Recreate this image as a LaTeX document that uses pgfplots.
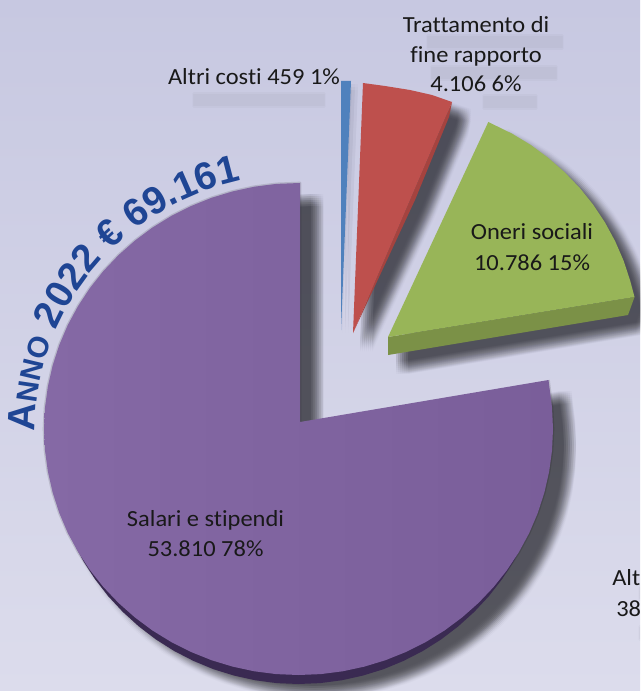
\documentclass[border=0pt]{standalone}
\usepackage{pgfplots}
\usepackage{pgfplotstable}
\usepackage{fontspec}
\pgfplotsset{compat=1.18}
\usetikzlibrary{decorations.text}
\setmainfont{Carlito}[Ligatures=NoCommon,FakeStretch=1.06]
\newfontfamily\titlef{Liberation Sans}
\definecolor{bgtop}{HTML}{C7C8E1}
\definecolor{bgbot}{HTML}{DCDCEC}
\definecolor{pl}{HTML}{8569A5}
\definecolor{pr}{HTML}{7A5E9A}
\definecolor{pd}{HTML}{3A2A52}
\definecolor{gr}{HTML}{98B558}
\definecolor{grd}{HTML}{7B9147}
\definecolor{re}{HTML}{BE504D}
\definecolor{red2}{HTML}{A5433F}
\definecolor{bl}{HTML}{4F81BD}
\definecolor{tit}{HTML}{1F4594}
\pgfplotstableread{
x y
300 422
300 183
276.3 183.9
254.3 186.7
232.6 191.4
211.5 197.8
190.9 206.1
171.2 216
152.5 227.5
134.9 240.6
118.5 255.1
103.5 270.9
90 287.9
78.1 306
67.8 325
59.3 344.9
52.7 365.3
47.9 386.3
45 407.5
44 429
45 450.5
47.9 471.7
52.7 492.7
59.3 513.1
67.8 533
78.1 552
90 570.1
103.5 587.1
118.5 602.9
134.9 617.4
152.5 630.5
171.2 642
190.9 651.9
211.5 660.2
232.6 666.6
254.3 671.3
276.3 674.1
298.5 675
320.7 674.1
342.7 671.3
364.4 666.6
385.5 660.2
406.1 651.9
425.8 642
444.5 630.5
462.1 617.4
478.5 602.9
493.5 587.1
507 570.1
518.9 552
529.2 533
537.7 513.1
544.3 492.7
549.1 471.7
552 450.5
553 429
552 407.5
548.5 380
}\purpleT
\pgfplotstableread{
x y
298.5 438
65 522.1
73.3 542
83.3 561
94.9 579.1
108.1 596.1
122.8 611.9
138.8 626.4
156 639.5
174.2 651
193.5 660.9
213.5 669.2
234.2 675.6
255.4 680.3
276.8 683.1
298.5 684
320.2 683.1
341.6 680.3
362.8 675.6
383.5 669.2
403.5 660.9
422.8 651
441 639.5
458.2 626.4
474.2 611.9
488.9 596.1
502.1 579.1
513.7 561
523.7 542
532 522.1
}\purpleD
\pgfplotstableread{
x y
388 337
488.3 122
512 133.6
530.7 144.9
548.3 157.9
564.6 172.2
579.6 187.8
593.1 204.6
605 222.5
615.2 241.3
623.7 260.9
630.3 281.1
634.5 297
}\greenT
\pgfplotstableread{
x y
388 337
634.5 297
628 315
388 355
}\greenD
\pgfplotstableread{
x y
388 337
488.3 122
512 133.6
530.7 144.9
548.3 157.9
564.6 172.2
579.6 187.8
593.1 204.6
605 222.5
615.2 241.3
623.7 260.9
630.3 281.1
634.5 297
628 315
388 355
}\greenS
\pgfplotstableread{
x y
353 333
363 83
385 86
410 90
432 95
452 102
}\redT
\pgfplotstableread{
x y
353 333
452 102
449 117
415 200
}\redD
\pgfplotstableread{
x y
353 333
363 83
385 86
410 90
432 95
452 102
449 117
415 200
}\redS
\pgfplotstableread{
x y
341 330
341 81
351 81
}\blueT
% one row of a soft shadow: table, x offset, y offset, opacity of one layer, offsets in y
\newcommand\shrow[5]{%
  \pgfplotsinvokeforeach{#5}{%
    \addplot[forget plot,fill=black,draw=none,opacity=#4]
      table[x expr=\thisrowno{0}+#2,y expr=\thisrowno{1}+#3+##1] {#1} -- cycle;
  }%
}
% soft shadow by repeated fills: table, dx, dy
\newcommand\softshadow[3]{%
  \shrow{#1}{#2-6}{#3}{0.0165}{-6,-4,-2,0,2,4,6}%
  \shrow{#1}{#2-4}{#3}{0.0165}{-6,-4,-2,0,2,4,6}%
  \shrow{#1}{#2-2}{#3}{0.0165}{-6,-4,-2,0,2,4,6}%
  \shrow{#1}{#2}{#3}{0.0165}{-6,-4,-2,0,2,4,6}%
  \shrow{#1}{#2+2}{#3}{0.0165}{-6,-4,-2,0,2,4,6}%
  \shrow{#1}{#2+4}{#3}{0.0165}{-6,-4,-2,0,2,4,6}%
  \shrow{#1}{#2+6}{#3}{0.0165}{-6,-4,-2,0,2,4,6}%
}
% blurred shadow of a line of text
\newcommand\softline[3]{%
  \pgfplotsinvokeforeach{-6,-4,-2,0,2,4,6}{%
    \addplot[forget plot,draw=black,line width=2.5pt,line cap=round,opacity=0.022]
      table[y expr=\thisrowno{1}+##1,row sep=\\] {x y\\ #1 #3\\ #2 #3\\};
  }%
}
\newcommand\lab{\fontsize{17.3}{17.3}\selectfont\color{black!90}}
\begin{document}
\begin{tikzpicture}
\path[clip,use as bounding box] (0,0) rectangle (480pt,518.25pt);
\shade[top color=bgtop,bottom color=bgbot] (0,0) rectangle (480pt,518.25pt);
\begin{axis}[
  at={(0,0)},anchor=south west,scale only axis,
  width=480pt,height=518.25pt,
  xmin=0,xmax=640,ymin=0,ymax=691,y dir=reverse,
  hide axis,clip=false]
% text shadows
\softline{194}{324}{100}
\softline{428}{562}{42}
\softline{432}{556}{73}
\softline{484}{536}{102}
\softline{640}{660}{593}
\softline{640}{660}{633}
% pie shadows
\shrow{\blueT}{1}{6}{0.012}{-3,0,3}
\shrow{\blueT}{4}{6}{0.012}{-3,0,3}
\shrow{\blueT}{7}{6}{0.012}{-3,0,3}
\softshadow{\redS}{13}{13}
\softshadow{\greenS}{14}{13}
\softshadow{\purpleT}{17}{17}
% thin halo round the arc of the large slice
\addplot[forget plot,draw=black,line width=2pt,opacity=0.12,line join=round] table {\purpleT};
% depth
\addplot[forget plot,fill=pd,draw=none] table {\purpleD} -- cycle;
\addplot[forget plot,fill=red2,draw=none] table {\redD} -- cycle;
\addplot[forget plot,fill=grd,draw=none] table {\greenD} -- cycle;
% faces
\addplot[forget plot,left color=pl,right color=pr,draw=none] table {\purpleT} -- cycle;
\addplot[forget plot,fill=gr,draw=none] table {\greenT} -- cycle;
\addplot[forget plot,fill=re,draw=none] table {\redT} -- cycle;
\addplot[forget plot,fill=bl,draw=none] table {\blueT} -- cycle;
% labels
\node[anchor=base] at (axis cs:205.5,526) {\lab Salari e stipendi};
\node[anchor=base] at (axis cs:205.5,556) {\lab 53.810 78\%};
\node[anchor=base] at (axis cs:532,240) {\lab Oneri sociali};
\node[anchor=base] at (axis cs:532,270) {\lab 10.786 15\%};
\node[anchor=base] at (axis cs:476,33) {\lab Trattamento di};
\node[anchor=base] at (axis cs:476,63) {\lab fine rapporto};
\node[anchor=base] at (axis cs:476,92) {\lab 4.106 6\%};
\node[anchor=base] at (axis cs:254,85) {\lab Altri costi 459 1\%};
\node[anchor=base west,inner sep=0pt] at (axis cs:612,585) {\lab Alt};
\node[anchor=base west,inner sep=0pt] at (axis cs:616,616) {\lab 38};
\end{axis}
\path[decorate,decoration={text along path,text align=left,
  text={|\titlef\bfseries\fontsize{29}{29}\selectfont\color{tit}|A||%
        |\titlef\bfseries\fontsize{22}{22}\selectfont\color{tit}|NNO||%
        |\titlef\bfseries\fontsize{29}{29}\selectfont\color{tit}| 2022 € 69.161}}]
  ({223.9pt+197.5pt*cos(180.5)},{196.5pt+191pt*sin(180.5)})
  arc[start angle=180.5,end angle=90,x radius=197.5pt,y radius=191pt];
\end{tikzpicture}
\end{document}
